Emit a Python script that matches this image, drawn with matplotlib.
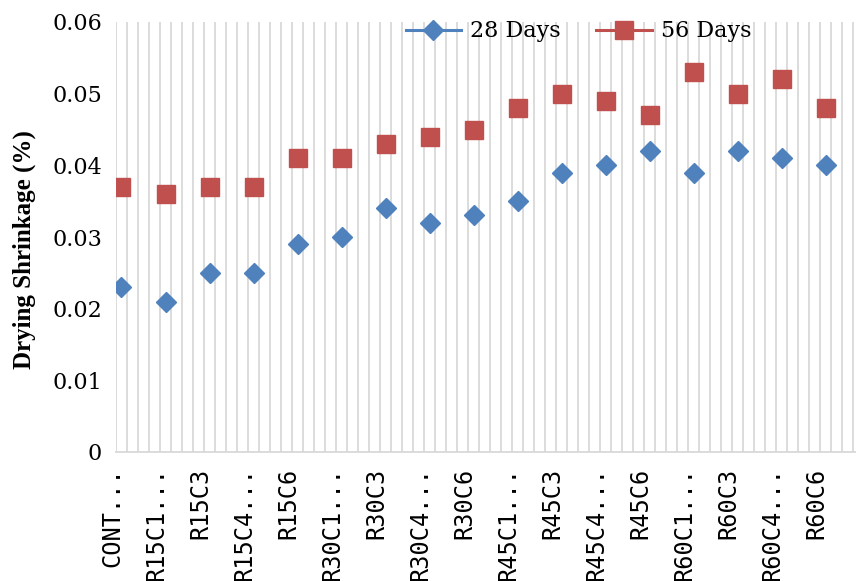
import matplotlib.pyplot as plt
import matplotlib.transforms as mtransforms
import numpy as np

# mix labels and drying shrinkage values (%)
mixes = ["CONT...", "R15C1...", "R15C3", "R15C4...", "R15C6",
         "R30C1...", "R30C3", "R30C4...", "R30C6",
         "R45C1...", "R45C3", "R45C4...", "R45C6",
         "R60C1...", "R60C3", "R60C4...", "R60C6"]
days28 = [0.023, 0.021, 0.025, 0.025, 0.029, 0.030, 0.034, 0.032, 0.033,
          0.035, 0.039, 0.040, 0.042, 0.039, 0.042, 0.041, 0.040]
days56 = [0.037, 0.036, 0.037, 0.037, 0.041, 0.041, 0.043, 0.044, 0.045,
          0.048, 0.050, 0.049, 0.047, 0.053, 0.050, 0.052, 0.048]

blue = "#4F81BD"
red = "#C0504D"
serif = ["DejaVu Serif"]

fig = plt.figure(figsize=(8.56, 5.81), dpi=100)
ax = fig.add_axes([116 / 856, 1 - 452 / 581, 1 - 116 / 856, (452 - 22) / 581])

x = np.arange(len(mixes))
ax.plot(x, days28, linestyle="none", marker="D", ms=10.5, color=blue,
        label="28 Days", zorder=3)
ax.plot(x, days56, linestyle="none", marker="s", ms=12.5, color=red,
        label="56 Days", zorder=3)

# vertical category grid, 4 slots per mix
slot_w = 0.25
x0 = -slot_w / 2
x1 = x0 + 740 / 44
for g in np.arange(x0, x1, slot_w):
    ax.axvline(g, color="#D9D9D9", lw=1.3, zorder=1)

ax.set_xlim(x0, x1)
ax.set_ylim(0, 0.06)
ax.set_yticks(np.arange(0, 0.061, 0.01))
ax.set_yticklabels(["0", "0.01", "0.02", "0.03", "0.04", "0.05", "0.06"],
                   family=serif, fontsize=16)
ax.set_xticks(x)
ax.set_xticklabels(mixes, rotation=90, family="DejaVu Sans Mono", fontsize=17)
ax.tick_params(length=0)
ax.tick_params(axis="y", pad=10)
ax.tick_params(axis="x", pad=11)

shift = mtransforms.ScaledTranslation(-9 / 100, 0, fig.dpi_scale_trans)
for lab in ax.get_xticklabels():
    lab.set_transform(lab.get_transform() + shift)

for side in ["top", "right", "left"]:
    ax.spines[side].set_visible(False)
ax.spines["bottom"].set_color("#D9D9D9")
ax.spines["bottom"].set_linewidth(1.3)

ax.set_ylabel("Drying Shrinkage (%)", family="Liberation Serif",
              fontweight="bold", fontsize=18)
ax.yaxis.set_label_coords(-0.108, 0.47)

h28, = ax.plot([], [], color=blue, marker="D", ms=10.5, lw=2.2)
h56, = ax.plot([], [], color=red, marker="s", ms=12.5, lw=2.2)
ax.legend([h28, h56], ["28 Days", "56 Days"], ncol=2, frameon=False,
          loc="upper center", bbox_to_anchor=(0.625, 1.05),
          prop={"family": serif, "size": 16}, handlelength=2.5,
          columnspacing=1.6, handletextpad=0.4)

fig.savefig("out.png", dpi=100)
